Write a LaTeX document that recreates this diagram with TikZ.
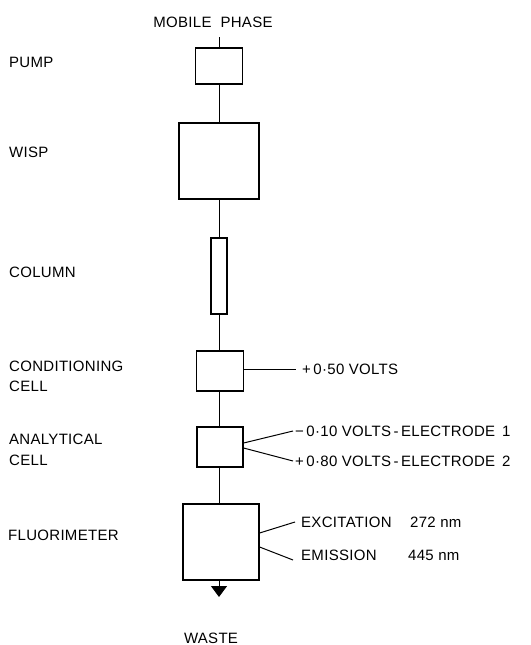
\documentclass[tikz,border=0pt]{standalone}
\usepackage{fontspec}
\setmainfont{Liberation Sans}[LetterSpace=2]
\usetikzlibrary{arrows.meta}
\begin{document}
\begin{tikzpicture}[x=1pt,y=-1pt,
  box/.style={draw,line width=1.2pt,inner sep=0pt},
  lbl/.style={anchor=west,inner sep=0pt,font=\fontsize{15}{18}\selectfont},
  conn/.style={line width=1pt}]
\useasboundingbox (0,0) rectangle (530,645);
% boxes
\node[box,minimum width=47pt,minimum height=36pt] (pump) at (219,66) {};
\node[box,minimum width=80pt,minimum height=76pt] (wisp) at (219,161) {};
\node[box,minimum width=16pt,minimum height=76pt] (col) at (219,276) {};
\node[box,minimum width=47pt,minimum height=40pt] (cond) at (220,371) {};
\node[box,minimum width=46pt,minimum height=40pt] (anal) at (220,447) {};
\node[box,minimum width=76pt,minimum height=76pt] (fluor) at (221,542) {};
\coordinate (in) at (219,37);
\coordinate (out) at (219,597);
% main line
\draw[conn] (in) -- (pump.north -| in);
\draw[conn] (pump.south -| in) -- (wisp.north -| in);
\draw[conn] (wisp.south -| in) -- (col.north -| in);
\draw[conn] (col.south -| in) -- (cond.north -| in);
\draw[conn] (cond.south -| in) -- (anal.north -| in);
\draw[conn] (anal.south -| in) -- (fluor.north -| in);
\draw[conn,-{Triangle[width=16pt,length=11pt]}] (fluor.south -| in) -- (out);
% top / bottom labels
\node[inner sep=0pt,font=\fontsize{15}{18}\selectfont] (mp) at (213,22) {MOBILE\ \ PHASE};
\node[inner sep=0pt,font=\fontsize{15}{18}\selectfont] (waste) at (211,638) {WASTE};
% left labels
\node[lbl] (lp) at (9,62) {PUMP};
\node[lbl] (lw) at (9,152) {WISP};
\node[lbl] (lc) at (9,272) {COLUMN};
\node[lbl,align=left,font=\fontsize{15}{20}\selectfont] (lcc) at (9,376) {CONDITIONING\\CELL};
\node[lbl,align=left,font=\fontsize{15}{21}\selectfont] (lac) at (9,449.5) {ANALYTICAL\\CELL};
\node[lbl] (lf) at (8,535) {FLUORIMETER};
% right connectors
\coordinate (c1) at (296,369);
\draw[conn] (cond.east |- c1) -- (c1);
\node[lbl] (t1) at (302,369) {+\,0·50 VOLTS};
\coordinate (a1) at (293,431);
\coordinate (a2) at (293,461);
\draw[conn] ([yshift=4pt]anal.east) -- (a1);
\draw[conn] ([yshift=-1pt]anal.east) -- (a2);
\node[lbl] (t2) at (295,431) {−\,0·10 VOLTS\,-\,ELECTRODE\ \,1};
\node[lbl] (t3) at (295,461) {+\,0·80 VOLTS\,-\,ELECTRODE\ \,2};
\coordinate (f1) at (295,522);
\coordinate (f2) at (293,560);
\draw[conn] ([yshift=9pt]fluor.east) -- (f1);
\draw[conn] ([yshift=-5pt]fluor.east) -- (f2);
\node[lbl] (t4) at (301,522) {EXCITATION};
\node[lbl] (t5) at (410,522) {272 nm};
\node[lbl] (t6) at (301,555) {EMISSION};
\node[lbl] (t7) at (408,555) {445 nm};
\end{tikzpicture}
\end{document}
